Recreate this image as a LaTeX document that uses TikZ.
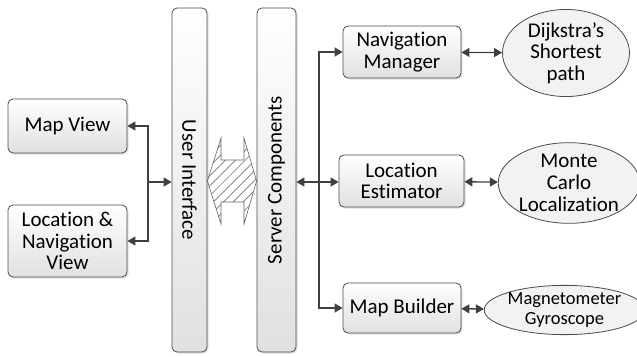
\documentclass[tikz,border=0pt]{standalone}
\usepackage{fontspec}
\setmainfont{Carlito}[Ligatures=CommonOff]
\usetikzlibrary{arrows.meta,positioning,shapes.geometric,patterns.meta,shadows}

\begin{document}
\begin{tikzpicture}[
    x=1pt, y=-1pt,
    font=\fontsize{21}{21.7}\selectfont,
    box/.style={draw=black!70, line width=0.8pt, rounded corners=5pt, top color=white, bottom color=black!12,
        align=center, inner sep=0pt, drop shadow={shadow xshift=1.5pt, shadow yshift=-1.5pt, opacity=0.25}},
    bar/.style={box, minimum height=344pt},
    oval/.style={ellipse, draw=black!70, line width=0.8pt, fill=black!5, align=center, inner sep=0pt},
    tip/.tip={Triangle[length=8pt, width=9pt]},
    link/.style={-tip, line width=1.3pt, draw=black!75},
    both/.style={tip-tip, line width=1.3pt, draw=black!75}
]
\useasboundingbox (0,0) rectangle (637,356);

% client side
\node[box, minimum width=119pt, minimum height=54pt] (mapview) at (67.5,126) {Map View};
\node[box, minimum width=119pt, minimum height=72pt] (locnav) at (67.5,241) {Location \&\\Navigation\\View};
\node[bar, minimum width=35pt] (ui) at (189.5,180) {};
\node[rotate=-90] (uitext) at (ui) {User Interface};

% server side
\node[bar, minimum width=39pt] (server) at (276.5,180) {};
\node[rotate=90] (servertext) at (server) {Server Components};

\node[box, minimum width=118pt, minimum height=52pt] (navmgr) at (402,52) {Navigation\\Manager};
\node[box, minimum width=125pt, minimum height=52pt] (locest) at (401.5,181) {Location\\Estimator};
\node[box, minimum width=118pt, minimum height=50pt] (mapbuild) at (402,308) {Map Builder};

% algorithms
\node[oval, minimum width=127pt, minimum height=74pt] (dijkstra) at (566,53) {Dijkstra’s\\Shortest\\path};
\node[oval, minimum width=131pt, minimum height=73pt] (montecarlo) at (569,183) {Monte\\Carlo\\Localization};
\node[oval, minimum width=145pt, minimum height=46pt, font=\fontsize{18.5}{20}\selectfont] (sensors) at (564.5,310) {Magnetometer\\Gyroscope};

% hatched double arrow between the bars
\draw[black!60, line width=0.6pt, pattern={Lines[angle=45, distance=7pt, line width=0.7pt]}, pattern color=black!55]
    (ui.east |- 0,181) -- (221,138) -- (221,160) -- (244,160) -- (244,138) -- (server.west |- 0,181)
    -- (244,224) -- (244,202) -- (221,202) -- (221,224) -- cycle;

% left connectors
\coordinate (lj) at (148,182);
\draw[link] (lj) |- (mapview.east);
\draw[link] (lj) |- (locnav.east);
\draw[link] (lj) -- (ui.west |- lj);

% right connectors
\coordinate (rj) at (319,182);
\draw[link] (rj) -- (server.east |- rj);
\draw[link] (rj) |- (navmgr.west);
\draw[link] (rj) -- (locest.west |- rj);
\draw[link] (rj) |- (mapbuild.west);

\draw[both] (navmgr) -- (dijkstra);
\draw[both] (locest) -- (montecarlo);
\draw[both] (mapbuild) -- (sensors);

\end{tikzpicture}
\end{document}
